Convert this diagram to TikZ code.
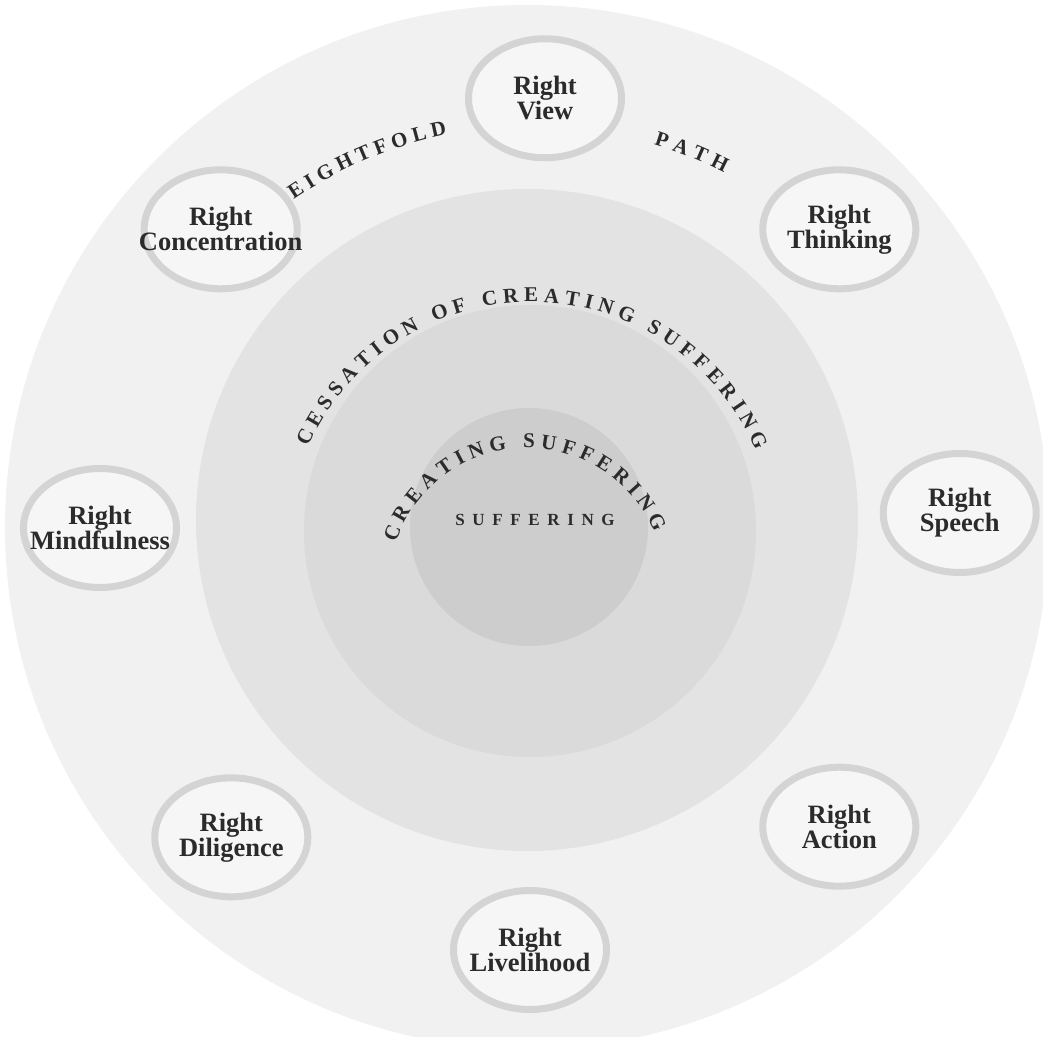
\documentclass[tikz,border=0pt]{standalone}
\usepackage{fontspec}
\setmainfont{Liberation Serif}
\newfontfamily\spacedcaps[LetterSpace=45]{Liberation Serif}
\usetikzlibrary{shapes.geometric, decorations.text}

\definecolor{outerdisc}{gray}{0.945}
\definecolor{cessationdisc}{gray}{0.89}
\definecolor{creatingdisc}{gray}{0.855}
\definecolor{sufferingdisc}{gray}{0.805}
\definecolor{ringgray}{gray}{0.83}
\definecolor{ringfill}{gray}{0.965}
\definecolor{inkgray}{gray}{0.17}

\begin{document}
\begin{tikzpicture}[
  x=1pt, y=1pt,
  disc/.style={circle, draw=none, inner sep=0pt},
  ring/.style={ellipse, draw=ringgray, fill=ringfill, line width=7pt, minimum width=153pt, minimum height=119pt, inner sep=0pt},
  ringlabel/.style={text=inkgray, font=\fontsize{26.5}{25}\selectfont\bfseries, align=center},
  arctext/.style={decorate, decoration={text along path, text align={fit to path}, text={|\fontsize{21}{21}\selectfont\bfseries\color{inkgray}|#1}}}
]

\useasboundingbox (-530,-508) rectangle (513,528);
\clip (-530,-508) rectangle (513,528);
\fill[white] (-530,-508) rectangle (513,528);

% Discs
\node[disc, fill=outerdisc, minimum size=1044pt] (outer) at (-3,1) {};
\node[disc, fill=cessationdisc, minimum size=662pt] (cessation) at (-3,8) {};
\node[disc, fill=creatingdisc, minimum size=452pt] (creating) at (0,-3) {};
\node[disc, fill=sufferingdisc, minimum size=238pt] (suffering) at (-1,1) {};

% Centres of the lettering arcs
\coordinate (outerarc) at (1,-18);
\coordinate (innerarc) at (-3,-58);

% Path rings
\node[ring] (view) at (88:430) {};
\node[ring] (thinking) at (44:430) {};
\node[ring] (speech) at (2:430) {};
\node[ring] (action) at (-44:430) {};
\node[ring] (livelihood) at (-90:422) {};
\node[ring] (diligence) at (-134:430) {};
\node[ring] (mindfulness) at (180:430) {};
\node[ring] (concentration) at (136:430) {};

% Ring labels
\node[ringlabel] at (view) {Right\\View};
\node[ringlabel] at (thinking) {Right\\Thinking};
\node[ringlabel] at (speech) {Right\\Speech};
\node[ringlabel] at (action) {Right\\Action};
\node[ringlabel] at (livelihood) {Right\\Livelihood};
\node[ringlabel] at (diligence) {Right\\Diligence};
\node[ringlabel] at (mindfulness) {Right\\Mindfulness};
\node[ringlabel] at (concentration) {Right\\Concentration};

% Arc lettering
\path[arctext={EIGHTFOLD}] ([shift={(124.4:420)}]outerarc) arc[start angle=124.4, end angle=101.5, radius=420];
\path[arctext={PATH}] ([shift={(73:420)}]outerarc) arc[start angle=73, end angle=62.6, radius=420];
\path[arctext={CESSATION OF CREATING SUFFERING}] ([shift={(156:244)}]outerarc) arc[start angle=156, end angle=23, radius=244];
\path[arctext={CREATING SUFFERING}] ([shift={(161.6:138)}]innerarc) arc[start angle=161.6, end angle=22.7, radius=138];

\node[text=inkgray, font=\spacedcaps\fontsize{17}{17}\selectfont\bfseries, xshift=4pt] (suffering-label) at (1,8) {SUFFERING};

\end{tikzpicture}
\end{document}
